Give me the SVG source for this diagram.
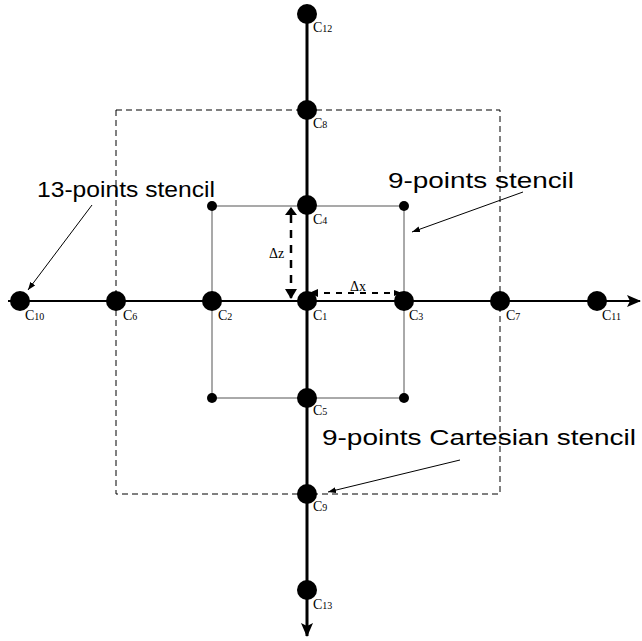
<svg xmlns="http://www.w3.org/2000/svg" width="642" height="641" viewBox="0 0 642 641">
<defs>
<marker id="ahs" markerWidth="8" markerHeight="6" refX="8" refY="3" orient="auto" markerUnits="userSpaceOnUse"><path d="M0,0 L8,3 L0,6 Z" fill="#000"/></marker>
<marker id="ahb" markerWidth="14" markerHeight="12" refX="13" refY="6" orient="auto" markerUnits="userSpaceOnUse"><path d="M0,0 L14,6 L0,12 L3,6 Z" fill="#000"/></marker>
</defs>
<style>
.lbl{font-family:"Liberation Serif",serif;font-size:14px;fill:#000}
.sub{font-size:10px}
.big{font-family:"Liberation Sans",Arial,sans-serif;font-size:22px;fill:#000}
.thin{stroke:#555;stroke-width:1;fill:none}
.dash{stroke:#000;stroke-width:1;stroke-dasharray:6,4;fill:none}
.bigdot{fill:#000}
</style>
<rect width="642" height="641" fill="#fff"/>
<g id="connectors">
<rect class="dash" x="116" y="110" width="384" height="384"/>
<rect class="thin" x="212" y="206" width="192" height="192"/>
<line x1="8" y1="301" x2="640" y2="301" stroke="#000" stroke-width="2" marker-end="url(#ahb)"/>
<line x1="307" y1="5" x2="307" y2="636" stroke="#000" stroke-width="3" marker-end="url(#ahb)"/>
<line x1="291" y1="215" x2="291" y2="299" stroke="#000" stroke-width="2.5" stroke-dasharray="8,7"/>
<path d="M285,215 L297,215 L291,207 Z" fill="#000"/>
<path d="M285,289 L297,289 L291,299 Z" fill="#000"/>
<line x1="312" y1="293" x2="402" y2="293" stroke="#000" stroke-width="2" stroke-dasharray="6,6" marker-end="url(#ahs)"/>
<path d="M318,289 L318,297 L309,293 Z" fill="#000"/>
<line x1="92" y1="205" x2="28" y2="290" stroke="#000" stroke-width="1" marker-end="url(#ahs)"/>
<line x1="523" y1="192" x2="412" y2="232" stroke="#000" stroke-width="1" marker-end="url(#ahs)"/>
<line x1="460" y1="460" x2="328" y2="492" stroke="#000" stroke-width="1" marker-end="url(#ahs)"/>
</g>
<g id="n-corners">
<circle cx="212" cy="206" r="5" class="bigdot"/>
<circle cx="404" cy="206" r="5" class="bigdot"/>
<circle cx="212" cy="398" r="5" class="bigdot"/>
<circle cx="404" cy="398" r="5" class="bigdot"/>
</g>
<g id="C1"><circle cx="307" cy="301" r="10" class="bigdot"/><text class="lbl" x="313" y="320">C<tspan class="sub">1</tspan></text></g>
<g id="C2"><circle cx="212" cy="301" r="10" class="bigdot"/><text class="lbl" x="218" y="320">C<tspan class="sub">2</tspan></text></g>
<g id="C3"><circle cx="404" cy="301" r="10" class="bigdot"/><text class="lbl" x="409" y="320">C<tspan class="sub">3</tspan></text></g>
<g id="C4"><circle cx="307" cy="205" r="10" class="bigdot"/><text class="lbl" x="313" y="224">C<tspan class="sub">4</tspan></text></g>
<g id="C5"><circle cx="307" cy="398" r="10" class="bigdot"/><text class="lbl" x="313" y="415">C<tspan class="sub">5</tspan></text></g>
<g id="C6"><circle cx="116" cy="301" r="10" class="bigdot"/><text class="lbl" x="123" y="320">C<tspan class="sub">6</tspan></text></g>
<g id="C7"><circle cx="500" cy="301" r="10" class="bigdot"/><text class="lbl" x="506" y="320">C<tspan class="sub">7</tspan></text></g>
<g id="C8"><circle cx="307" cy="110" r="10" class="bigdot"/><text class="lbl" x="313" y="128">C<tspan class="sub">8</tspan></text></g>
<g id="C9"><circle cx="307" cy="494" r="10" class="bigdot"/><text class="lbl" x="313" y="511">C<tspan class="sub">9</tspan></text></g>
<g id="C10"><circle cx="20" cy="301" r="10" class="bigdot"/><text class="lbl" x="25" y="320">C<tspan class="sub">10</tspan></text></g>
<g id="C11"><circle cx="597" cy="301" r="10" class="bigdot"/><text class="lbl" x="602" y="320">C<tspan class="sub">11</tspan></text></g>
<g id="C12"><circle cx="307" cy="14" r="10" class="bigdot"/><text class="lbl" x="313" y="32">C<tspan class="sub">12</tspan></text></g>
<g id="C13"><circle cx="307" cy="590" r="10" class="bigdot"/><text class="lbl" x="313" y="609">C<tspan class="sub">13</tspan></text></g>
<g id="deltas">
<text class="lbl" x="269" y="258">Δz</text>
<text class="lbl" x="350" y="291">Δx</text>
</g>
<g id="texts">
<text class="big" x="37" y="197" textLength="178" lengthAdjust="spacingAndGlyphs">13-points stencil</text>
<text class="big" x="388" y="188" textLength="186" lengthAdjust="spacingAndGlyphs">9-points stencil</text>
<text class="big" x="322" y="445" textLength="314" lengthAdjust="spacingAndGlyphs">9-points Cartesian stencil</text>
</g>
</svg>
